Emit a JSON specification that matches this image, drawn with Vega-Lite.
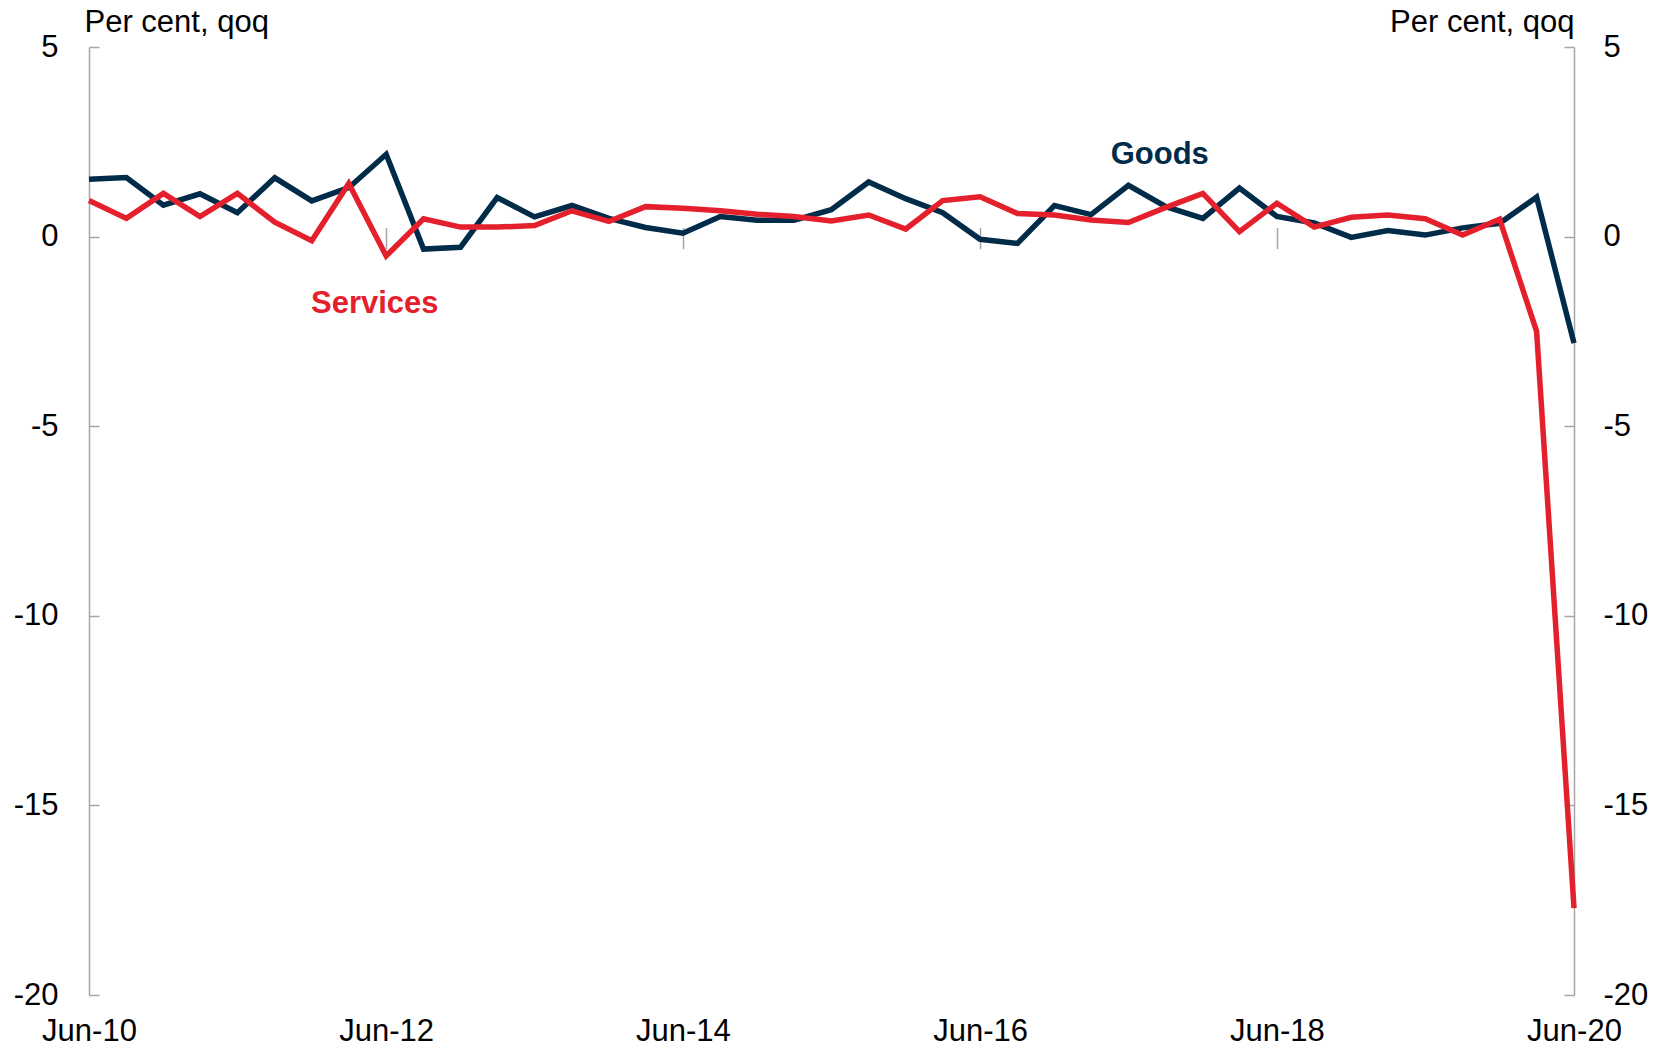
{
  "$schema": "https://vega.github.io/schema/vega-lite/v6.json",
  "autosize": {"type": "none"},
  "width": 1485,
  "height": 948,
  "padding": {"left": 89, "top": 47, "right": 95, "bottom": 55},
  "background": "white",
  "config": {
    "font": "Liberation Sans",
    "view": {"stroke": null},
    "axis": {
      "labelFont": "Liberation Sans",
      "labelFontSize": 31,
      "labelColor": "#000000",
      "titleFont": "Liberation Sans",
      "titleFontSize": 31,
      "titleFontWeight": "normal",
      "titleColor": "#000000",
      "domainColor": "#A6A6A6",
      "tickColor": "#A6A6A6",
      "domainWidth": 1.5,
      "tickWidth": 1.5,
      "grid": false
    }
  },
  "datasets": {
    "series": [
      {"date": "2010-06-01", "series": "Goods", "value": 1.51},
      {"date": "2010-09-01", "series": "Goods", "value": 1.56},
      {"date": "2010-12-01", "series": "Goods", "value": 0.83},
      {"date": "2011-03-01", "series": "Goods", "value": 1.13},
      {"date": "2011-06-01", "series": "Goods", "value": 0.63},
      {"date": "2011-09-01", "series": "Goods", "value": 1.55},
      {"date": "2011-12-01", "series": "Goods", "value": 0.94},
      {"date": "2012-03-01", "series": "Goods", "value": 1.29},
      {"date": "2012-06-01", "series": "Goods", "value": 2.17},
      {"date": "2012-09-01", "series": "Goods", "value": -0.33},
      {"date": "2012-12-01", "series": "Goods", "value": -0.28},
      {"date": "2013-03-01", "series": "Goods", "value": 1.03},
      {"date": "2013-06-01", "series": "Goods", "value": 0.52},
      {"date": "2013-09-01", "series": "Goods", "value": 0.82},
      {"date": "2013-12-01", "series": "Goods", "value": 0.48},
      {"date": "2014-03-01", "series": "Goods", "value": 0.24},
      {"date": "2014-06-01", "series": "Goods", "value": 0.09},
      {"date": "2014-09-01", "series": "Goods", "value": 0.53},
      {"date": "2014-12-01", "series": "Goods", "value": 0.43},
      {"date": "2015-03-01", "series": "Goods", "value": 0.43},
      {"date": "2015-06-01", "series": "Goods", "value": 0.71},
      {"date": "2015-09-01", "series": "Goods", "value": 1.44},
      {"date": "2015-12-01", "series": "Goods", "value": 1.0},
      {"date": "2016-03-01", "series": "Goods", "value": 0.63},
      {"date": "2016-06-01", "series": "Goods", "value": -0.07},
      {"date": "2016-09-01", "series": "Goods", "value": -0.18},
      {"date": "2016-12-01", "series": "Goods", "value": 0.82},
      {"date": "2017-03-01", "series": "Goods", "value": 0.58},
      {"date": "2017-06-01", "series": "Goods", "value": 1.35},
      {"date": "2017-09-01", "series": "Goods", "value": 0.79},
      {"date": "2017-12-01", "series": "Goods", "value": 0.48},
      {"date": "2018-03-01", "series": "Goods", "value": 1.28},
      {"date": "2018-06-01", "series": "Goods", "value": 0.53},
      {"date": "2018-09-01", "series": "Goods", "value": 0.36},
      {"date": "2018-12-01", "series": "Goods", "value": -0.02},
      {"date": "2019-03-01", "series": "Goods", "value": 0.16},
      {"date": "2019-06-01", "series": "Goods", "value": 0.04},
      {"date": "2019-09-01", "series": "Goods", "value": 0.23},
      {"date": "2019-12-01", "series": "Goods", "value": 0.35},
      {"date": "2020-03-01", "series": "Goods", "value": 1.04},
      {"date": "2020-06-01", "series": "Goods", "value": -2.81},
      {"date": "2010-06-01", "series": "Services", "value": 0.95},
      {"date": "2010-09-01", "series": "Services", "value": 0.48},
      {"date": "2010-12-01", "series": "Services", "value": 1.14},
      {"date": "2011-03-01", "series": "Services", "value": 0.53},
      {"date": "2011-06-01", "series": "Services", "value": 1.14},
      {"date": "2011-09-01", "series": "Services", "value": 0.38},
      {"date": "2011-12-01", "series": "Services", "value": -0.11},
      {"date": "2012-03-01", "series": "Services", "value": 1.40},
      {"date": "2012-06-01", "series": "Services", "value": -0.51},
      {"date": "2012-09-01", "series": "Services", "value": 0.47},
      {"date": "2012-12-01", "series": "Services", "value": 0.25},
      {"date": "2013-03-01", "series": "Services", "value": 0.25},
      {"date": "2013-06-01", "series": "Services", "value": 0.29},
      {"date": "2013-09-01", "series": "Services", "value": 0.68},
      {"date": "2013-12-01", "series": "Services", "value": 0.40},
      {"date": "2014-03-01", "series": "Services", "value": 0.79},
      {"date": "2014-06-01", "series": "Services", "value": 0.75},
      {"date": "2014-09-01", "series": "Services", "value": 0.68},
      {"date": "2014-12-01", "series": "Services", "value": 0.59},
      {"date": "2015-03-01", "series": "Services", "value": 0.53},
      {"date": "2015-06-01", "series": "Services", "value": 0.41},
      {"date": "2015-09-01", "series": "Services", "value": 0.57},
      {"date": "2015-12-01", "series": "Services", "value": 0.20},
      {"date": "2016-03-01", "series": "Services", "value": 0.95},
      {"date": "2016-06-01", "series": "Services", "value": 1.05},
      {"date": "2016-09-01", "series": "Services", "value": 0.61},
      {"date": "2016-12-01", "series": "Services", "value": 0.57},
      {"date": "2017-03-01", "series": "Services", "value": 0.44},
      {"date": "2017-06-01", "series": "Services", "value": 0.37},
      {"date": "2017-09-01", "series": "Services", "value": 0.77},
      {"date": "2017-12-01", "series": "Services", "value": 1.14},
      {"date": "2018-03-01", "series": "Services", "value": 0.13},
      {"date": "2018-06-01", "series": "Services", "value": 0.88},
      {"date": "2018-09-01", "series": "Services", "value": 0.25},
      {"date": "2018-12-01", "series": "Services", "value": 0.51},
      {"date": "2019-03-01", "series": "Services", "value": 0.57},
      {"date": "2019-06-01", "series": "Services", "value": 0.47},
      {"date": "2019-09-01", "series": "Services", "value": 0.04},
      {"date": "2019-12-01", "series": "Services", "value": 0.46},
      {"date": "2020-03-01", "series": "Services", "value": -2.50},
      {"date": "2020-06-01", "series": "Services", "value": -17.71}
    ],
    "labels": [
      {"date": "2017-08-17", "series": "Goods", "value": 2.15},
      {"date": "2012-05-04", "series": "Services", "value": -1.77}
    ]
  },
  "layer": [
    {
      "mark": {"type": "rule", "color": "#A6A6A6", "strokeWidth": 1.5},
      "encoding": {
        "y": {"datum": 0, "type": "quantitative", "scale": {"domain": [-20, 5], "nice": false, "zero": false}, "axis": null}
      }
    },
    {
      "data": {"name": "series"},
      "mark": {"type": "line", "strokeWidth": 5.5, "strokeJoin": "miter", "strokeCap": "butt"},
      "encoding": {
        "x": {
          "field": "date",
          "type": "temporal",
          "scale": {"type": "utc", "domain": [{"year": 2010, "month": "jun", "date": 1, "utc": true}, {"year": 2020, "month": "jun", "date": 1, "utc": true}], "nice": false},
          "axis": {
            "orient": "bottom",
            "title": null,
            "domain": false,
            "ticks": false,
            "labelPadding": 21,
            "labelFlush": false,
            "labelOverlap": false,
            "values": [
              {"year": 2010, "month": "jun", "date": 1, "utc": true},
              {"year": 2012, "month": "jun", "date": 1, "utc": true},
              {"year": 2014, "month": "jun", "date": 1, "utc": true},
              {"year": 2016, "month": "jun", "date": 1, "utc": true},
              {"year": 2018, "month": "jun", "date": 1, "utc": true},
              {"year": 2020, "month": "jun", "date": 1, "utc": true}
            ],
            "labelExpr": "utcFormat(datum.value, '%b-%y')"
          }
        },
        "y": {
          "field": "value",
          "type": "quantitative",
          "scale": {"domain": [-20, 5], "nice": false, "zero": false},
          "axis": {
            "orient": "left",
            "values": [-20, -15, -10, -5, 0, 5],
            "labelExpr": "replace(datum.label, '−', '-')",
            "tickSize": -10,
            "labelPadding": 41,
            "title": "Per cent, qoq",
            "titleAngle": 0,
            "titleAlign": "left",
            "titleBaseline": "middle",
            "titleAnchor": null,
            "titleX": -5,
            "titleY": -25
          }
        },
        "color": {
          "field": "series",
          "type": "nominal",
          "scale": {"domain": ["Goods", "Services"], "range": ["#002B49", "#E4202C"]},
          "legend": null
        }
      }
    },
    {
      "data": {"name": "labels"},
      "mark": {"type": "text", "fontSize": 31, "fontWeight": "bold", "font": "Liberation Sans", "align": "center", "baseline": "middle"},
      "encoding": {
        "x": {
          "field": "date",
          "type": "temporal",
          "axis": {
            "orient": "top",
            "title": null,
            "domain": false,
            "labels": false,
            "ticks": true,
            "tickSize": 21,
            "offset": -201.6,
            "values": [
              {"year": 2012, "month": "jun", "date": 1, "utc": true},
              {"year": 2014, "month": "jun", "date": 1, "utc": true},
              {"year": 2016, "month": "jun", "date": 1, "utc": true},
              {"year": 2018, "month": "jun", "date": 1, "utc": true}
            ]
          }
        },
        "y": {
          "field": "value",
          "type": "quantitative",
          "axis": {
            "orient": "right",
            "values": [-20, -15, -10, -5, 0, 5],
            "labelExpr": "replace(datum.label, '−', '-')",
            "tickSize": -10,
            "labelPadding": 39,
            "title": "Per cent, qoq",
            "titleAngle": 0,
            "titleAlign": "right",
            "titleBaseline": "middle",
            "titleAnchor": null,
            "titleX": 0,
            "titleY": -25
          }
        },
        "text": {"field": "series"},
        "color": {"field": "series", "type": "nominal", "legend": null}
      }
    }
  ],
  "resolve": {"axis": {"x": "independent", "y": "independent"}}
}
